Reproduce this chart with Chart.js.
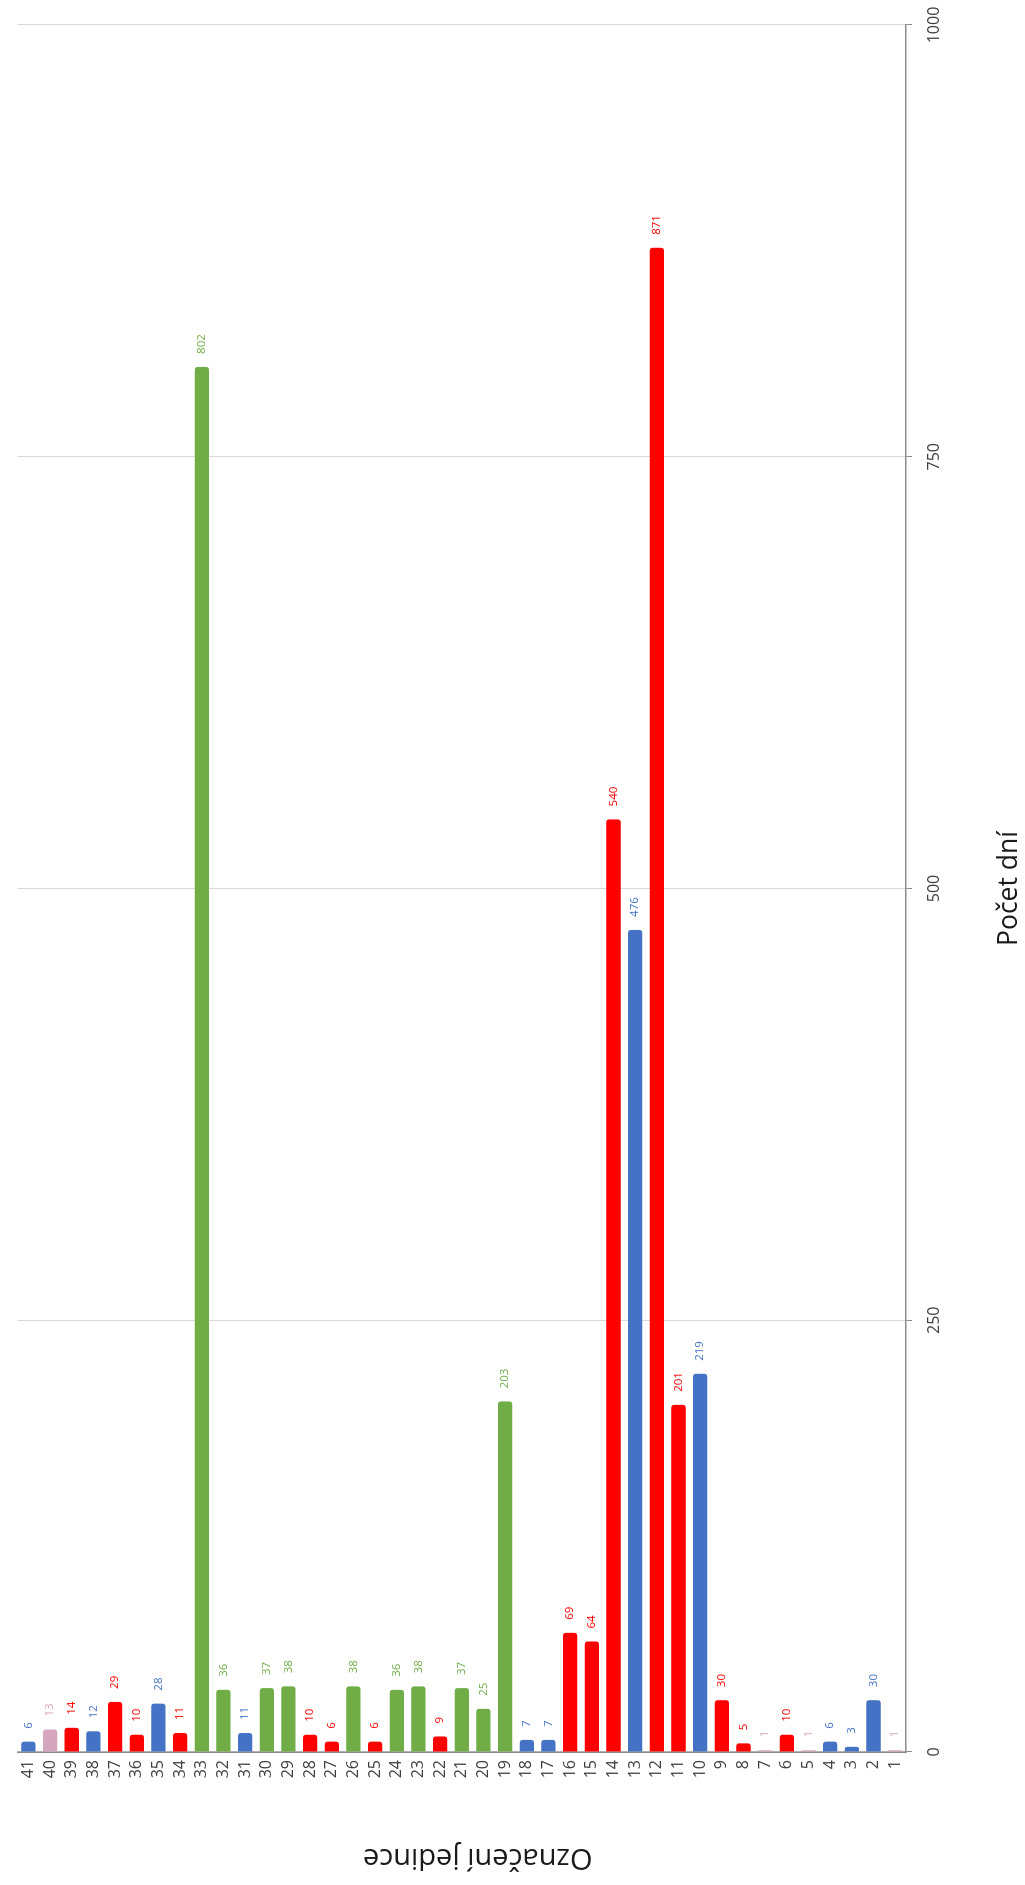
<!DOCTYPE html>
<html>
<head>
<meta charset="utf-8">
<script src="https://cdn.jsdelivr.net/npm/chart.js@4/dist/chart.umd.min.js"></script>
<style>
    html, body { margin: 0; padding: 0; background: #fff; }
    body { width: 1025px; height: 1885px; position: relative; overflow: hidden; }
    /* the chart is a horizontal bar chart turned a quarter turn to the left */
    #wrap {
        position: absolute; left: 0; top: 0;
        width: 1885px; height: 1025px;
        transform-origin: 0 0;
        transform: translate(0, 1885px) rotate(-90deg);
    }
</style>
</head>
<body>
<div id="wrap"><canvas id="chart" width="1885" height="1025"></canvas></div>
<script>
// Individuals 1..41 and number of days
const individuals = ["1","2","3","4","5","6","7","8","9","10","11","12","13","14","15","16","17","18","19","20",
    "21","22","23","24","25","26","27","28","29","30","31","32","33","34","35","36","37","38","39","40","41"];
const days = [1, 30, 3, 6, 1, 10, 1, 5, 30, 219, 201, 871, 476, 540, 64, 69, 7, 7, 203, 25,
    37, 9, 38, 36, 6, 38, 6, 10, 38, 37, 11, 36, 802, 11, 28, 10, 29, 12, 14, 13, 6];
// group of each individual (colour of its bar)
const groups = ["P","B","B","B","P","R","P","R","R","B","R","R","B","R","R","R","B","B","G","G",
    "G","R","G","G","R","G","R","R","G","G","B","G","G","R","B","R","R","B","R","P","B"];
const valueTicks = [0, 250, 500, 750, 1000];
const valueTitle = "Počet dní";
const categoryTitle = "Označení jedince";

const groupColors = { R: "#ff0000", B: "#4472c4", G: "#70ad47", P: "#d5a6bd" };
const barColors = groups.map(g => groupColors[g]);

// Draw the value next to the end of every bar
const barLabels = {
    id: "barLabels",
    afterDatasetsDraw(chart) {
        const ctx = chart.ctx;
        const meta = chart.getDatasetMeta(0);
        ctx.save();
        ctx.font = "11.5px 'Open Sans'";
        ctx.textAlign = "left";
        ctx.textBaseline = "middle";
        meta.data.forEach((bar, i) => {
            ctx.fillStyle = barColors[i];
            ctx.fillText(String(days[i]), bar.x + 13, bar.y);
        });
        ctx.restore();
    }
};

// Category axis title, sitting a bit off the axis centre like in the original
const categoryTitlePlugin = {
    id: "categoryTitle",
    afterDraw(chart) {
        const ctx = chart.ctx;
        const area = chart.chartArea;
        ctx.save();
        ctx.translate(28, (area.top + area.bottom) / 2 + 16);
        ctx.rotate(-Math.PI / 2);
        ctx.font = "29px 'Open Sans'";
        ctx.fillStyle = "#1a1a1a";
        ctx.textAlign = "center";
        ctx.textBaseline = "middle";
        ctx.fillText(categoryTitle, 0, 0);
        ctx.restore();
    }
};

const whiteBg = {
    id: "whiteBg",
    beforeDraw(chart) {
        const ctx = chart.ctx;
        ctx.save();
        ctx.fillStyle = "#fff";
        ctx.fillRect(0, 0, chart.width, chart.height);
        ctx.restore();
    }
};

new Chart(document.getElementById("chart").getContext("2d"), {
    type: "bar",
    data: {
        labels: individuals,
        datasets: [{
            data: days,
            backgroundColor: barColors,
            borderWidth: 0,
            borderRadius: 3,
            categoryPercentage: 1,
            barPercentage: 0.66,
        }],
    },
    options: {
        indexAxis: "y",
        responsive: false,
        animation: false,
        events: [],
        layout: { padding: { left: 0, top: 16, right: 25, bottom: 0 } },
        plugins: {
            legend: { display: false },
            tooltip: { enabled: false },
        },
        scales: {
            x: {
                min: 0,
                max: 1000,
                afterBuildTicks: (scale) => { scale.ticks = valueTicks.map(v => ({ value: v })); },
                afterFit: (scale) => {
                    scale.height = 119;
                    scale.paddingLeft = 0;
                    scale.paddingRight = 0;
                },
                grid: { color: "#d9d9d9", lineWidth: 1, tickLength: 6, tickColor: "#8c8c8c" },
                border: { display: true, color: "#8c8c8c", width: 1.5 },
                ticks: {
                    padding: 13,
                    color: "#404040",
                    font: { family: "'Open Sans'", size: 16 },
                    callback: (v) => String(v),
                },
                title: {
                    display: true,
                    text: valueTitle,
                    color: "#1a1a1a",
                    font: { family: "'Open Sans'", size: 26.5 },
                    padding: { top: 0, bottom: 0 },
                },
            },
            y: {
                reverse: true,
                afterFit: (scale) => { scale.width = 133; },
                grid: { drawOnChartArea: false, drawTicks: false },
                border: { display: true, color: "#8c8c8c", width: 1.5 },
                ticks: {
                    autoSkip: false,
                    padding: 8,
                    color: "#404040",
                    font: { family: "'Open Sans'", size: 16 },
                },
                title: { display: false },
            },
        },
    },
    plugins: [whiteBg, barLabels, categoryTitlePlugin],
});
</script>
</body>
</html>
